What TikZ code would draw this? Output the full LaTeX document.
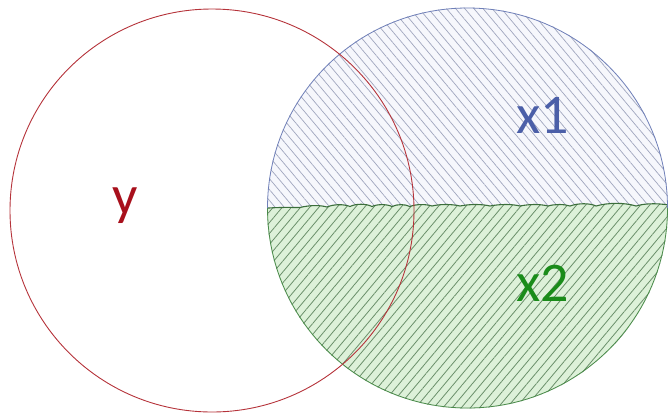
\documentclass[tikz,border=0pt]{standalone}
\usepackage{fontspec}
\setmainfont{Carlito}
\usetikzlibrary{patterns.meta}
\definecolor{redline}{HTML}{B5333A}
\definecolor{blueline}{HTML}{7080B8}
\definecolor{greenline}{HTML}{4A8A4A}
\definecolor{topfill}{HTML}{F6F7FC}
\definecolor{tophatch}{HTML}{A0A6BE}
\definecolor{botfill}{HTML}{DDF1D9}
\definecolor{bothatch}{HTML}{6A8F6A}
\definecolor{xonecol}{HTML}{4B5FA8}
\definecolor{xtwocol}{HTML}{1A8C1A}
\definecolor{ycol}{HTML}{A8101C}
\tikzset{
  lbl/.style={font=\fontsize{56}{60}\selectfont, inner sep=0pt, anchor=base},
}
\newcommand{\wavepath}{(262,208.5)
  .. controls (280,207) and (290,207.5) .. (300,207.5)
  .. controls (310,205) and (320,205) .. (327,207)
  .. controls (334,204) and (344,204) .. (350,206.5)
  .. controls (356,203.5) and (366,203.5) .. (372,206.5)
  .. controls (377,204) and (387,204) .. (392,206.5)
  .. controls (397,204) and (405,204) .. (410,206.5)
  .. controls (416,204) and (426,204) .. (432,206)
  .. controls (440,204) and (452,204) .. (460,206)
  .. controls (470,204) and (482,204) .. (490,206)
  .. controls (500,204) and (512,204) .. (520,206)
  .. controls (530,204) and (540,204) .. (548,206)
  .. controls (555,204) and (564,204) .. (570,206)
  .. controls (578,203) and (590,203) .. (596,206)
  .. controls (608,202.5) and (625,202.5) .. (636,206)
  .. controls (646,203) and (660,203) .. (674,206)}
\begin{document}
\begin{tikzpicture}[x=1pt,y=-1pt]
\useasboundingbox (0,0) rectangle (669,413);
\coordinate (cy) at (212,210.5);
\coordinate (cx) at (467.5,208);
% top (x1) half
\fill[topfill] (cx) circle[radius=200.5];
\fill[pattern={Lines[angle=-50,distance=7pt,line width=0.7pt]}, pattern color=tophatch] (cx) circle[radius=200.5];
% bottom (x2) half
\begin{scope}
  \clip (cx) circle[radius=200.5];
  \fill[botfill] \wavepath -- (674,420) -- (262,420) -- cycle;
  \fill[pattern={Lines[angle=50,distance=7pt,line width=0.8pt]}, pattern color=bothatch] \wavepath -- (674,420) -- (262,420) -- cycle;
  \draw[greenline!80!black, line width=1.1pt] \wavepath;
\end{scope}
% outlines
\draw[greenline, line width=0.8pt] (667.5,208) arc[start angle=0, end angle=180, radius=200];
\draw[blueline, line width=0.8pt] (667.5,208) arc[start angle=0, end angle=-180, radius=200];
\draw[redline, line width=0.9pt] (cy) circle[x radius=202, y radius=201.5];
% labels
\node[lbl, text=ycol] (y) at (125,214) {y};
\node[lbl, text=xonecol] (x1) at (543,133) {x1};
\node[lbl, text=xtwocol] (x2) at (543,301) {x2};
\end{tikzpicture}
\end{document}
